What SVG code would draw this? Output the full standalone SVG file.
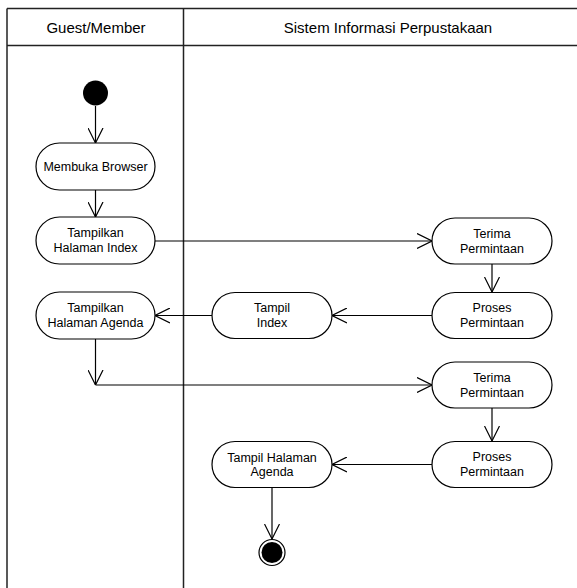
<svg xmlns="http://www.w3.org/2000/svg" width="577" height="588" viewBox="0 0 577 588">
  <style>
    .lane { stroke: #222; stroke-width: 1.5; fill: none; }
    .hdr { font-family: "Liberation Sans", Arial, sans-serif; font-size: 15px; fill: #000; text-anchor: middle; dominant-baseline: central; }
    .act rect { fill: #fff; stroke: #000; stroke-width: 1.2; }
    .act text { font-family: "Liberation Sans", Arial, sans-serif; font-size: 12.5px; fill: #000; text-anchor: middle; dominant-baseline: central; }
    .conn line, .conn path { stroke: #000; stroke-width: 1.2; fill: none; }
  </style>
  <defs>
    <marker id="open" viewBox="0 0 15 16" refX="15" refY="8" markerWidth="15" markerHeight="16" markerUnits="userSpaceOnUse" orient="auto">
      <path d="M0,0.5 L15,8 L0,15.5" fill="none" stroke="#000" stroke-width="1.2"/>
    </marker>
  </defs>

  <rect width="577" height="588" fill="#fff"/>

  <!-- swimlanes -->
  <g id="swimlanes">
    <line class="lane" x1="7" y1="8.5" x2="577" y2="8.5"/>
    <line class="lane" x1="7" y1="45.5" x2="577" y2="45.5"/>
    <line class="lane" x1="7" y1="8.5" x2="7" y2="588"/>
    <line class="lane" x1="183.5" y1="8.5" x2="183.5" y2="588"/>
    <text class="hdr" x="96" y="27">Guest/Member</text>
    <text class="hdr" x="388" y="27">Sistem Informasi Perpustakaan</text>
  </g>

  <!-- connectors -->
  <g id="connectors" class="conn">
    <line x1="95.5" y1="106" x2="95.5" y2="143" marker-end="url(#open)"/>
    <line x1="95.5" y1="190" x2="95.5" y2="217" marker-end="url(#open)"/>
    <line x1="155" y1="241" x2="432" y2="241" marker-end="url(#open)"/>
    <line x1="492" y1="264" x2="492" y2="292" marker-end="url(#open)"/>
    <line x1="432" y1="315.5" x2="332" y2="315.5" marker-end="url(#open)"/>
    <line x1="212" y1="315.5" x2="155" y2="315.5" marker-end="url(#open)"/>
    <line x1="95.5" y1="339" x2="95.5" y2="385" marker-end="url(#open)"/>
    <line x1="95.5" y1="385" x2="432" y2="385" marker-end="url(#open)"/>
    <line x1="492" y1="408" x2="492" y2="441" marker-end="url(#open)"/>
    <line x1="432" y1="464.5" x2="332" y2="464.5" marker-end="url(#open)"/>
    <line x1="272" y1="488" x2="272" y2="539" marker-end="url(#open)"/>
  </g>

  <!-- initial node -->
  <g id="start">
    <circle cx="95.5" cy="93" r="12.5" fill="#000"/>
  </g>

  <g id="membuka-browser" class="act">
    <rect x="36" y="143" width="119" height="47" rx="23.5"/>
    <text x="95.5" y="166.5">Membuka Browser</text>
  </g>

  <g id="tampilkan-index" class="act">
    <rect x="36" y="217" width="119" height="47" rx="23.5"/>
    <text x="95.5" y="233">Tampilkan</text>
    <text x="95.5" y="248">Halaman Index</text>
  </g>

  <g id="tampilkan-agenda" class="act">
    <rect x="36" y="292" width="119" height="47" rx="23.5"/>
    <text x="95.5" y="308">Tampilkan</text>
    <text x="95.5" y="323">Halaman Agenda</text>
  </g>

  <g id="terima-1" class="act">
    <rect x="432" y="218" width="120" height="46" rx="23"/>
    <text x="492" y="233.5">Terima</text>
    <text x="492" y="248.5">Permintaan</text>
  </g>

  <g id="proses-1" class="act">
    <rect x="432" y="292.5" width="120" height="46" rx="23"/>
    <text x="492" y="308">Proses</text>
    <text x="492" y="323">Permintaan</text>
  </g>

  <g id="tampil-index" class="act">
    <rect x="212" y="292.5" width="120" height="46" rx="23"/>
    <text x="272" y="308">Tampil</text>
    <text x="272" y="323">Index</text>
  </g>

  <g id="terima-2" class="act">
    <rect x="432" y="362" width="120" height="46" rx="23"/>
    <text x="492" y="377.5">Terima</text>
    <text x="492" y="392.5">Permintaan</text>
  </g>

  <g id="proses-2" class="act">
    <rect x="432" y="441.5" width="120" height="46" rx="23"/>
    <text x="492" y="457">Proses</text>
    <text x="492" y="472">Permintaan</text>
  </g>

  <g id="tampil-agenda" class="act">
    <rect x="212" y="441.5" width="120" height="46" rx="23"/>
    <text x="272" y="457.5">Tampil Halaman</text>
    <text x="272" y="471.5">Agenda</text>
  </g>

  <!-- final node -->
  <g id="end">
    <circle cx="272" cy="552.5" r="13" fill="#fff" stroke="#000" stroke-width="1.2"/>
    <circle cx="272" cy="552.5" r="10.5" fill="#000"/>
  </g>
</svg>
